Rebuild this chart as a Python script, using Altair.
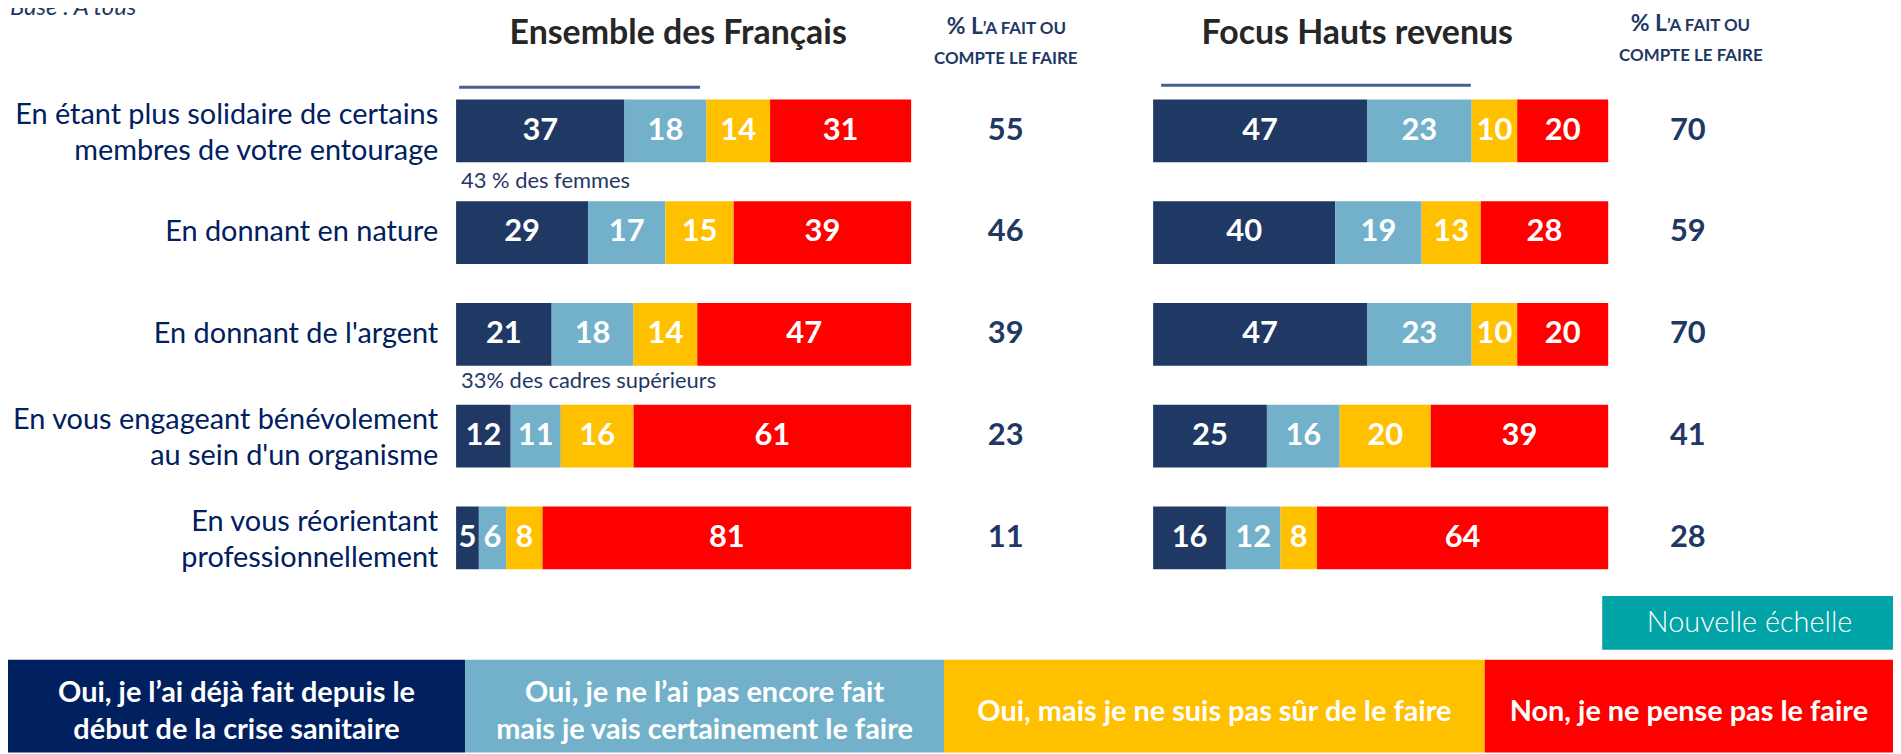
import altair as alt
import pandas as pd

# ---------------- data ----------------
categories = [
    "En étant plus solidaire de certains\nmembres de votre entourage",
    "En donnant en nature",
    "En donnant de l'argent",
    "En vous engageant bénévolement\nau sein d'un organisme",
    "En vous réorientant\nprofessionnellement",
]
series = [
    "Oui, je l’ai déjà fait depuis le début de la crise sanitaire",
    "Oui, je ne l’ai pas encore fait mais je vais certainement le faire",
    "Oui, mais je ne suis pas sûr de le faire",
    "Non, je ne pense pas le faire",
]
legend_lines = [
    "Oui, je l’ai déjà fait depuis le\ndébut de la crise sanitaire",
    "Oui, je ne l’ai pas encore fait\nmais je vais certainement le faire",
    "Oui, mais je ne suis pas sûr de le faire",
    "Non, je ne pense pas le faire",
]
ensemble_deja = [37, 29, 21, 12, 5]
ensemble_certain = [18, 17, 18, 11, 6]
ensemble_pas_sur = [14, 15, 14, 16, 8]
ensemble_non = [31, 39, 47, 61, 81]
ensemble_total = [55, 46, 39, 23, 11]

hauts_deja = [47, 40, 47, 25, 16]
hauts_certain = [23, 19, 23, 16, 12]
hauts_pas_sur = [10, 13, 10, 20, 8]
hauts_non = [20, 28, 20, 39, 64]
hauts_total = [70, 59, 70, 41, 28]

notes = ["43 % des femmes", "33% des cadres supérieurs"]
title_left = "Ensemble des Français"
title_right = "Focus Hauts revenus"
col_head_a = "% L"
col_head_b = "’A FAIT OU"
col_head_2 = "COMPTE LE FAIRE"
base_text = "Base : A tous"
nouvelle = "Nouvelle échelle"

# ---------------- style ----------------
colors = ["#1F3864", "#72B1C9", "#FFC000", "#FF0000"]
legend_colors = ["#002060", "#72B1C9", "#FFC000", "#FF0000"]
FONT = "Lato"
NAVY = "#1F3864"

W, H = 1893, 746
PX_PER_UNIT = 4.57
LEFT0 = 450
RIGHT_OFFSET = (1150 - LEFT0) / PX_PER_UNIT
xdom = [-LEFT0 / PX_PER_UNIT, (W - LEFT0) / PX_PER_UNIT]
xscale = alt.Scale(domain=xdom, range=[0, W], nice=False, zero=False)
yscale = alt.Scale(domain=list(range(5)), range=[70.6, 581.6],
                   paddingInner=0.3836, paddingOuter=0.1918)

# ---------------- build tables ----------------
rows = []
panels = [
    (0.0, [ensemble_deja, ensemble_certain, ensemble_pas_sur, ensemble_non]),
    (RIGHT_OFFSET, [hauts_deja, hauts_certain, hauts_pas_sur, hauts_non]),
]
for offset, vals in panels:
    for r in range(5):
        cum = 0
        for s in range(4):
            v = vals[s][r]
            rows.append(dict(row=r, serie=series[s], value=v,
                             x0=offset + cum, x1=offset + cum + v,
                             mid=offset + cum + v / 2))
            cum += v
bars_df = pd.DataFrame(rows)

Y = alt.Y("row:O", scale=yscale, axis=None)

bars = alt.Chart(bars_df).mark_bar(size=63).encode(
    x=alt.X("x0:Q", scale=xscale, axis=None),
    x2="x1:Q",
    y=Y,
    color=alt.Color("serie:N", scale=alt.Scale(domain=series, range=colors), legend=None),
)
bar_text = alt.Chart(bars_df).mark_text(
    font=FONT, fontSize=31, fontWeight="bold", color="white", baseline="middle"
).encode(
    x=alt.X("mid:Q", scale=xscale, axis=None),
    y=Y,
    text="value:Q",
)

tot_left = pd.DataFrame({"row": range(5), "total": ensemble_total})
tot_right = pd.DataFrame({"row": range(5), "total": hauts_total})
totals_l = alt.Chart(tot_left).mark_text(
    font=FONT, fontSize=31, fontWeight="bold", color=NAVY, baseline="middle"
).encode(x=alt.value(1002), y=Y, text="total:Q")
totals_r = alt.Chart(tot_right).mark_text(
    font=FONT, fontSize=31, fontWeight="bold", color=NAVY, baseline="middle"
).encode(x=alt.value(1687), y=Y, text="total:Q")

cat_df = pd.DataFrame({"row": range(5), "label": categories})
cat_df["lines"] = cat_df["label"].str.count("\n") + 1
cat_one = alt.Chart(cat_df[cat_df["lines"] == 1]).mark_text(
    font=FONT, fontSize=29, color="#002060", align="right", baseline="middle"
).encode(x=alt.value(432), y=Y, text="label:N")
cat_two = alt.Chart(cat_df[cat_df["lines"] == 2]).mark_text(
    font=FONT, fontSize=29, color="#002060", align="right", baseline="middle",
    lineBreak="\n", lineHeight=36, dy=-16
).encode(x=alt.value(432), y=Y, text="label:N")


def txt(s, x, y, **kw):
    return alt.Chart(pd.DataFrame({"t": [s]})).mark_text(**kw).encode(
        x=alt.value(x), y=alt.value(y), text="t:N")


def rect(x, x2, y, y2, color):
    return alt.Chart(pd.DataFrame({"a": [0]})).mark_rect(color=color).encode(
        x=alt.value(x), x2=alt.value(x2), y=alt.value(y), y2=alt.value(y2))


def rule(x, x2, y, color, w):
    return alt.Chart(pd.DataFrame({"a": [0]})).mark_rule(color=color, strokeWidth=w).encode(
        x=alt.value(x), x2=alt.value(x2), y=alt.value(y))


deco = [
    txt(base_text, 2, 5, font=FONT, fontSize=24, fontStyle="italic", color=NAVY,
        align="left", baseline="alphabetic"),
    txt(title_left, 673, 25, font=FONT, fontSize=34, fontWeight="bold", color="#262626",
        baseline="middle"),
    txt(title_right, 1355, 25, font=FONT, fontSize=34, fontWeight="bold", color="#262626",
        baseline="middle"),
    # column headers (small caps imitation)
    txt(col_head_a, 979, 25, font=FONT, fontSize=23, fontWeight="bold", color=NAVY,
        align="right", baseline="alphabetic"),
    txt(col_head_b, 979, 25, font=FONT, fontSize=17, fontWeight="bold", color=NAVY,
        align="left", baseline="alphabetic"),
    txt(col_head_2, 1002, 55, font=FONT, fontSize=17, fontWeight="bold", color=NAVY,
        baseline="alphabetic"),
    txt(col_head_a, 1666, 22, font=FONT, fontSize=23, fontWeight="bold", color=NAVY,
        align="right", baseline="alphabetic"),
    txt(col_head_b, 1666, 22, font=FONT, fontSize=17, fontWeight="bold", color=NAVY,
        align="left", baseline="alphabetic"),
    txt(col_head_2, 1690, 52, font=FONT, fontSize=17, fontWeight="bold", color=NAVY,
        baseline="alphabetic"),
    rule(453, 695, 78, "#44618F", 3),
    rule(1158, 1469, 76, "#44618F", 3),
    txt(notes[0], 455, 172, font=FONT, fontSize=22, color=NAVY, align="left", baseline="middle"),
    txt(notes[1], 455, 373, font=FONT, fontSize=22, color=NAVY, align="left", baseline="middle"),
    rect(1601, 1893, 589, 643, "#00A3A6"),
    txt(nouvelle, 1749, 616, font=FONT, fontSize=29, fontWeight=300, color="white", baseline="middle"),
]

edges = [-8, 459, 940, 1483, 1893]
legend_layers = []
for i in range(4):
    legend_layers.append(rect(edges[i], edges[i + 1], 653, 746, legend_colors[i]))
    two = "\n" in legend_lines[i]
    legend_layers.append(txt(legend_lines[i], (edges[i] + edges[i + 1]) / 2 + (4 if i == 0 else 0), 705,
                             font=FONT, fontSize=29, fontWeight="bold", color="white",
                             baseline="middle", lineBreak="\n", lineHeight=37,
                             dy=-18.5 if two else 0))

chart = alt.layer(bars, bar_text, totals_l, totals_r, cat_one, cat_two, *deco, *legend_layers).properties(
    width=W, height=H, autosize=alt.AutoSizeParams(type="none"), padding=0
).configure_view(stroke=None)

chart.save("out.html", embed_options={"renderer": "svg", "actions": False})
